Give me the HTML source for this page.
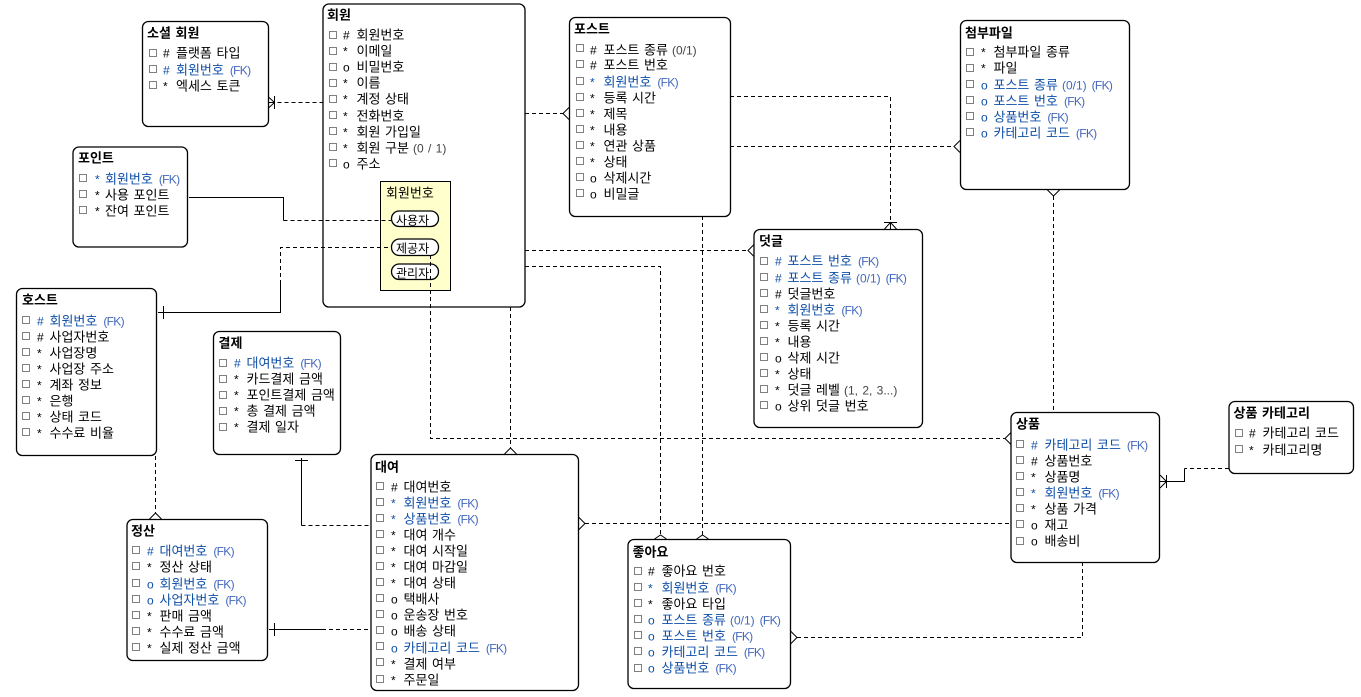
<!DOCTYPE html>
<html lang="ko">
<head>
<meta charset="utf-8">
<title>ERD</title>
<style>
html,body{margin:0;padding:0;background:#fff;width:1361px;height:697px;overflow:hidden}
svg{display:block}
text{font-family:"Noto Sans CJK KR","NanumGothic",sans-serif;font-size:13px;fill:#000;word-spacing:1px;transform:translateY(.5px)}
.t{font-weight:700}
.b{fill:#0f4fa8}
.k{font-family:"Liberation Sans",sans-serif;font-size:12px;letter-spacing:-.7px;fill:#4468bc}
.n{font-family:"Liberation Sans",sans-serif;font-size:12px;fill:#444}
.m{font-family:"Liberation Sans",sans-serif;font-size:12px}
.p{font-size:12px}
.e{fill:#fff;stroke:#000;stroke-width:1.3}
.c{fill:none;stroke:#808080;stroke-width:1;shape-rendering:crispEdges}
.s{fill:none;stroke:#000;stroke-width:1;shape-rendering:crispEdges}
.d{fill:none;stroke:#000;stroke-width:1;stroke-dasharray:4 3;shape-rendering:crispEdges}
.h{fill:none;stroke:#000;stroke-width:1}
</style>
</head>
<body>
<svg width="1361" height="697" viewBox="0 0 1361 697" xmlns="http://www.w3.org/2000/svg">
<!-- entity boxes -->
<rect class="e" x="142.5" y="21.5" width="126" height="105" rx="6"/>
<rect class="e" x="323" y="4" width="202" height="303" rx="6"/>
<rect class="e" x="73" y="147" width="114.5" height="100" rx="6"/>
<rect class="e" x="16.5" y="288.5" width="140" height="167" rx="6"/>
<rect class="e" x="213.5" y="331.5" width="127" height="123" rx="6"/>
<rect class="e" x="127" y="519.5" width="140.5" height="141" rx="6"/>
<rect class="e" x="371" y="454.5" width="207.5" height="236" rx="6"/>
<rect class="e" x="628" y="539.5" width="162.5" height="149" rx="6"/>
<rect class="e" x="569.5" y="17.5" width="161" height="199" rx="6"/>
<rect class="e" x="754" y="229.5" width="168.5" height="198" rx="6"/>
<rect class="e" x="960.5" y="20.5" width="169" height="169" rx="6"/>
<rect class="e" x="1011" y="412.5" width="148.5" height="150" rx="6"/>
<rect class="e" x="1229" y="401.5" width="124.5" height="72" rx="6"/>
<!-- subtype box -->
<rect x="380.5" y="181.5" width="70" height="109" fill="#ffffcc" stroke="#000" stroke-width="1" shape-rendering="crispEdges"/>
<rect class="e" x="391.5" y="211" width="47" height="15.5" rx="7.7" stroke-width="1"/>
<rect class="e" x="391.5" y="239" width="47" height="16.5" rx="8" stroke-width="1"/>
<rect class="e" x="391.5" y="264" width="47" height="15.5" rx="7.7" stroke-width="1"/>
<!-- connectors -->
<path class="d" d="M323.5 102.5H275"/>
<path class="s" d="M268.5 102.5H275M274.5 96V109"/><path class="h" d="M268.5 97L274.5 102.5L268.5 108"/>
<path class="s" d="M189 197.5H283.5V220.5"/>
<path class="d" d="M283.5 220.5H391"/>
<path class="s" d="M158 312.5H280.5V284M163.5 306V319"/>
<path class="d" d="M280.5 284V247.5H391"/>
<path class="d" d="M430.5 255V438.5H1005"/>
<path class="h" d="M1011 432.5L1005 438.5L1011 444.5"/>
<path class="d" d="M525 113.5H563"/>
<path class="h" d="M569 107.5L563 113.5L569 119.5"/>
<path class="d" d="M525 250.5H748"/>
<path class="h" d="M754 244.5L748 250.5L754 256.5"/>
<path class="d" d="M525 266.5H660.5V535"/>
<path class="h" d="M654.5 539L660.5 535L666.5 539"/>
<path class="d" d="M510.5 307V448"/>
<path class="h" d="M504.5 454L510.5 448L516.5 454"/>
<path class="d" d="M702.5 216V535"/>
<path class="h" d="M696.5 539L702.5 535L708.5 539"/>
<path class="d" d="M730 96.5H890.5V222"/>
<path class="s" d="M884 222.5H897M890.5 222V229"/><path class="h" d="M884.5 229L890.5 222.5L896.5 229"/>
<path class="d" d="M730 146.5H954"/>
<path class="h" d="M960 140.5L954 146.5L960 152.5"/>
<path class="d" d="M1053.5 196V412"/>
<path class="h" d="M1047 189.5L1053.5 196L1060 189.5"/>
<path class="d" d="M1229 468.5H1184.5"/>
<path class="s" d="M1184.5 468.5V481.5H1160M1166.5 475V488"/>
<path class="h" d="M1160 475L1166.5 481.5L1160 488"/>
<path class="d" d="M585 523.5H1011"/>
<path class="h" d="M578.5 517L585 523.5L578.5 530"/>
<path class="d" d="M797 637.5H1082.5V562"/>
<path class="h" d="M790.5 631L797 637.5L790.5 644"/>
<path class="s" d="M301.5 458V525.5M295 460.5H308"/>
<path class="d" d="M301.5 525.5H371"/>
<path class="s" d="M269 629.5H322M274.5 623V636"/>
<path class="d" d="M322 629.5H371"/>
<path class="d" d="M155.5 456V513"/>
<path class="h" d="M149.5 519L155.5 513L161.5 519"/>
<!-- checkboxes -->
<path class="c" d="M149.5 49.5h7v7h-7zM149.5 65.5h7v7h-7zM149.5 81.5h7v7h-7z
M329.5 31.5h7v7h-7zM329.5 47.5h7v7h-7zM329.5 63.5h7v7h-7zM329.5 79.5h7v7h-7zM329.5 95.5h7v7h-7zM329.5 111.5h7v7h-7zM329.5 127.5h7v7h-7zM329.5 143.5h7v7h-7zM329.5 159.5h7v7h-7z
M79.5 174.5h7v7h-7zM79.5 190.5h7v7h-7zM79.5 206.5h7v7h-7z
M22.5 316.5h7v7h-7zM22.5 332.5h7v7h-7zM22.5 348.5h7v7h-7zM22.5 364.5h7v7h-7zM22.5 380.5h7v7h-7zM22.5 396.5h7v7h-7zM22.5 412.5h7v7h-7zM22.5 428.5h7v7h-7z
M219.5 359.5h7v7h-7zM219.5 375.5h7v7h-7zM219.5 391.5h7v7h-7zM219.5 407.5h7v7h-7zM219.5 423.5h7v7h-7z
M132.5 546.5h7v7h-7zM132.5 562.5h7v7h-7zM132.5 579.5h7v7h-7zM132.5 595.5h7v7h-7zM132.5 611.5h7v7h-7zM132.5 627.5h7v7h-7zM132.5 643.5h7v7h-7z
M376.5 482.5h7v7h-7zM376.5 498.5h7v7h-7zM376.5 514.5h7v7h-7zM376.5 530.5h7v7h-7zM376.5 546.5h7v7h-7zM376.5 562.5h7v7h-7zM376.5 578.5h7v7h-7zM376.5 594.5h7v7h-7zM376.5 610.5h7v7h-7zM376.5 626.5h7v7h-7zM376.5 642.5h7v7h-7zM376.5 658.5h7v7h-7zM376.5 675.5h7v7h-7z
M634.5 567.5h7v7h-7zM634.5 583.5h7v7h-7zM634.5 599.5h7v7h-7zM634.5 615.5h7v7h-7zM634.5 631.5h7v7h-7zM634.5 647.5h7v7h-7zM634.5 664.5h7v7h-7z
M576.5 44.5h7v7h-7zM576.5 60.5h7v7h-7zM576.5 77.5h7v7h-7zM576.5 93.5h7v7h-7zM576.5 109.5h7v7h-7zM576.5 125.5h7v7h-7zM576.5 141.5h7v7h-7zM576.5 157.5h7v7h-7zM576.5 173.5h7v7h-7zM576.5 189.5h7v7h-7z
M760.5 257.5h7v7h-7zM760.5 273.5h7v7h-7zM760.5 289.5h7v7h-7zM760.5 305.5h7v7h-7zM760.5 321.5h7v7h-7zM760.5 337.5h7v7h-7zM760.5 353.5h7v7h-7zM760.5 369.5h7v7h-7zM760.5 385.5h7v7h-7zM760.5 401.5h7v7h-7z
M966.5 48.5h7v7h-7zM966.5 64.5h7v7h-7zM966.5 80.5h7v7h-7zM966.5 96.5h7v7h-7zM966.5 112.5h7v7h-7zM966.5 128.5h7v7h-7z
M1016.5 440.5h7v7h-7zM1016.5 456.5h7v7h-7zM1016.5 472.5h7v7h-7zM1016.5 488.5h7v7h-7zM1016.5 504.5h7v7h-7zM1016.5 520.5h7v7h-7zM1016.5 537.5h7v7h-7z
M1235.5 429.5h7v7h-7zM1235.5 445.5h7v7h-7z"/>
<!-- 소셜 회원 -->
<text class="t" x="147" y="37">소셜 회원</text>
<text y="57"><tspan class="m" x="163">#</tspan><tspan x="176">플랫폼 타입</tspan></text>
<text y="74" class="b"><tspan class="m b" x="163">#</tspan><tspan x="176">회원번호</tspan><tspan class="k" dx="6">(FK)</tspan></text>
<text y="90"><tspan class="m" x="163">*</tspan><tspan x="176">엑세스 토큰</tspan></text>
<!-- 회원 -->
<text class="t" x="327" y="19">회원</text>
<text y="39"><tspan class="m" x="343">#</tspan><tspan x="356.5">회원번호</tspan></text>
<text y="55"><tspan class="m" x="343">*</tspan><tspan x="356.5">이메일</tspan></text>
<text y="71"><tspan class="m" x="343">o</tspan><tspan x="356.5">비밀번호</tspan></text>
<text y="87"><tspan class="m" x="343">*</tspan><tspan x="356.5">이름</tspan></text>
<text y="103"><tspan class="m" x="343">*</tspan><tspan x="356.5">계정 상태</tspan></text>
<text y="120"><tspan class="m" x="343">*</tspan><tspan x="356.5">전화번호</tspan></text>
<text y="136"><tspan class="m" x="343">*</tspan><tspan x="356.5">회원 가입일</tspan></text>
<text y="152"><tspan class="m" x="343">*</tspan><tspan x="356.5">회원 구분</tspan><tspan class="n" dx="4">(0 / 1)</tspan></text>
<text y="168"><tspan class="m" x="343">o</tspan><tspan x="356.5">주소</tspan></text>
<text x="386" y="197">회원번호</text>
<text class="p" x="396" y="224">사용자</text>
<text class="p" x="396" y="252">제공자</text>
<text class="p" x="396" y="277">관리자</text>
<!-- 포인트 -->
<text class="t" x="78" y="162">포인트</text>
<text y="183" class="b"><tspan class="m b" x="95">*</tspan><tspan x="105">회원번호</tspan><tspan class="k" dx="6">(FK)</tspan></text>
<text y="199"><tspan class="m" x="95">*</tspan><tspan x="105">사용 포인트</tspan></text>
<text y="215"><tspan class="m" x="95">*</tspan><tspan x="105">잔여 포인트</tspan></text>
<!-- 호스트 -->
<text class="t" x="22" y="304">호스트</text>
<text y="325" class="b"><tspan class="m b" x="37">#</tspan><tspan x="49.5">회원번호</tspan><tspan class="k" dx="6">(FK)</tspan></text>
<text y="341"><tspan class="m" x="37">#</tspan><tspan x="49.5">사업자번호</tspan></text>
<text y="357"><tspan class="m" x="37">*</tspan><tspan x="49.5">사업장명</tspan></text>
<text y="373"><tspan class="m" x="37">*</tspan><tspan x="49.5">사업장 주소</tspan></text>
<text y="389"><tspan class="m" x="37">*</tspan><tspan x="49.5">계좌 정보</tspan></text>
<text y="405"><tspan class="m" x="37">*</tspan><tspan x="49.5">은행</tspan></text>
<text y="421"><tspan class="m" x="37">*</tspan><tspan x="49.5">상태 코드</tspan></text>
<text y="437"><tspan class="m" x="37">*</tspan><tspan x="49.5">수수료 비율</tspan></text>
<!-- 결제 -->
<text class="t" x="218.5" y="347">결제</text>
<text y="367" class="b"><tspan class="m b" x="234">#</tspan><tspan x="246.5">대여번호</tspan><tspan class="k" dx="6">(FK)</tspan></text>
<text y="383"><tspan class="m" x="234">*</tspan><tspan x="246.5">카드결제 금액</tspan></text>
<text y="399"><tspan class="m" x="234">*</tspan><tspan x="246.5">포인트결제 금액</tspan></text>
<text y="415"><tspan class="m" x="234">*</tspan><tspan x="246.5">총 결제 금액</tspan></text>
<text y="431"><tspan class="m" x="234">*</tspan><tspan x="246.5">결제 일자</tspan></text>
<!-- 정산 -->
<text class="t" x="131" y="535">정산</text>
<text y="555" class="b"><tspan class="m b" x="147">#</tspan><tspan x="159.5">대여번호</tspan><tspan class="k" dx="6">(FK)</tspan></text>
<text y="571"><tspan class="m" x="147">*</tspan><tspan x="159.5">정산 상태</tspan></text>
<text y="588" class="b"><tspan class="m b" x="147">o</tspan><tspan x="159.5">회원번호</tspan><tspan class="k" dx="6">(FK)</tspan></text>
<text y="604" class="b"><tspan class="m b" x="147">o</tspan><tspan x="159.5">사업자번호</tspan><tspan class="k" dx="6">(FK)</tspan></text>
<text y="620"><tspan class="m" x="147">*</tspan><tspan x="159.5">판매 금액</tspan></text>
<text y="636"><tspan class="m" x="147">*</tspan><tspan x="159.5">수수료 금액</tspan></text>
<text y="652"><tspan class="m" x="147">*</tspan><tspan x="159.5">실제 정산 금액</tspan></text>
<!-- 대여 -->
<text class="t" x="375" y="471">대여</text>
<text y="491"><tspan class="m" x="391">#</tspan><tspan x="403.5">대여번호</tspan></text>
<text y="507" class="b"><tspan class="m b" x="391">*</tspan><tspan x="403.5">회원번호</tspan><tspan class="k" dx="6">(FK)</tspan></text>
<text y="523" class="b"><tspan class="m b" x="391">*</tspan><tspan x="403.5">상품번호</tspan><tspan class="k" dx="6">(FK)</tspan></text>
<text y="539"><tspan class="m" x="391">*</tspan><tspan x="403.5">대여 개수</tspan></text>
<text y="555"><tspan class="m" x="391">*</tspan><tspan x="403.5">대여 시작일</tspan></text>
<text y="571"><tspan class="m" x="391">*</tspan><tspan x="403.5">대여 마감일</tspan></text>
<text y="587"><tspan class="m" x="391">*</tspan><tspan x="403.5">대여 상태</tspan></text>
<text y="603"><tspan class="m" x="391">o</tspan><tspan x="403.5">택배사</tspan></text>
<text y="619"><tspan class="m" x="391">o</tspan><tspan x="403.5">운송장 번호</tspan></text>
<text y="635"><tspan class="m" x="391">o</tspan><tspan x="403.5">배송 상태</tspan></text>
<text y="652" class="b"><tspan class="m b" x="391">o</tspan><tspan x="403.5">카테고리 코드</tspan><tspan class="k" dx="6">(FK)</tspan></text>
<text y="668"><tspan class="m" x="391">*</tspan><tspan x="403.5">결제 여부</tspan></text>
<text y="684"><tspan class="m" x="391">*</tspan><tspan x="403.5">주문일</tspan></text>
<!-- 좋아요 -->
<text class="t" x="632.5" y="556">좋아요</text>
<text y="575"><tspan class="m" x="648">#</tspan><tspan x="661.5">좋아요 번호</tspan></text>
<text y="592" class="b"><tspan class="m b" x="648">*</tspan><tspan x="661.5">회원번호</tspan><tspan class="k" dx="6">(FK)</tspan></text>
<text y="608"><tspan class="m" x="648">*</tspan><tspan x="661.5">좋아요 타입</tspan></text>
<text y="624" class="b"><tspan class="m b" x="648">o</tspan><tspan x="661.5">포스트 종류</tspan><tspan class="n" dx="4" style="fill:#4468bc">(0/1)</tspan><tspan class="k" dx="5">(FK)</tspan></text>
<text y="640" class="b"><tspan class="m b" x="648">o</tspan><tspan x="661.5">포스트 번호</tspan><tspan class="k" dx="6">(FK)</tspan></text>
<text y="656" class="b"><tspan class="m b" x="648">o</tspan><tspan x="661.5">카테고리 코드</tspan><tspan class="k" dx="6">(FK)</tspan></text>
<text y="672" class="b"><tspan class="m b" x="648">o</tspan><tspan x="661.5">상품번호</tspan><tspan class="k" dx="6">(FK)</tspan></text>
<!-- 포스트 -->
<text class="t" x="574" y="33">포스트</text>
<text y="54"><tspan class="m" x="590">#</tspan><tspan x="603.5">포스트 종류</tspan><tspan class="n" dx="4">(0/1)</tspan></text>
<text y="69"><tspan class="m" x="590">#</tspan><tspan x="603.5">포스트 번호</tspan></text>
<text y="86" class="b"><tspan class="m b" x="590">*</tspan><tspan x="603.5">회원번호</tspan><tspan class="k" dx="6">(FK)</tspan></text>
<text y="102"><tspan class="m" x="590">*</tspan><tspan x="603.5">등록 시간</tspan></text>
<text y="118"><tspan class="m" x="590">*</tspan><tspan x="603.5">제목</tspan></text>
<text y="134"><tspan class="m" x="590">*</tspan><tspan x="603.5">내용</tspan></text>
<text y="150"><tspan class="m" x="590">*</tspan><tspan x="603.5">연관 상품</tspan></text>
<text y="166"><tspan class="m" x="590">*</tspan><tspan x="603.5">상태</tspan></text>
<text y="182"><tspan class="m" x="590">o</tspan><tspan x="603.5">삭제시간</tspan></text>
<text y="198"><tspan class="m" x="590">o</tspan><tspan x="603.5">비밀글</tspan></text>
<!-- 덧글 -->
<text class="t" x="759" y="245">덧글</text>
<text y="265" class="b"><tspan class="m b" x="775">#</tspan><tspan x="787.5">포스트 번호</tspan><tspan class="k" dx="6">(FK)</tspan></text>
<text y="282" class="b"><tspan class="m b" x="775">#</tspan><tspan x="787.5">포스트 종류</tspan><tspan class="n" dx="4" style="fill:#4468bc">(0/1)</tspan><tspan class="k" dx="5">(FK)</tspan></text>
<text y="298"><tspan class="m" x="775">#</tspan><tspan x="787.5">덧글번호</tspan></text>
<text y="314" class="b"><tspan class="m b" x="775">*</tspan><tspan x="787.5">회원번호</tspan><tspan class="k" dx="6">(FK)</tspan></text>
<text y="330"><tspan class="m" x="775">*</tspan><tspan x="787.5">등록 시간</tspan></text>
<text y="346"><tspan class="m" x="775">*</tspan><tspan x="787.5">내용</tspan></text>
<text y="362"><tspan class="m" x="775">o</tspan><tspan x="787.5">삭제 시간</tspan></text>
<text y="378"><tspan class="m" x="775">*</tspan><tspan x="787.5">상태</tspan></text>
<text y="394"><tspan class="m" x="775">*</tspan><tspan x="787.5">덧글 레벨</tspan><tspan class="n" dx="4">(1, 2, 3...)</tspan></text>
<text y="410"><tspan class="m" x="775">o</tspan><tspan x="787.5">상위 덧글 번호</tspan></text>
<!-- 첨부파일 -->
<text class="t" x="965" y="37">첨부파일</text>
<text y="56"><tspan class="m" x="981">*</tspan><tspan x="993.5">첨부파일 종류</tspan></text>
<text y="72"><tspan class="m" x="981">*</tspan><tspan x="993.5">파일</tspan></text>
<text y="89" class="b"><tspan class="m b" x="981">o</tspan><tspan x="993.5">포스트 종류</tspan><tspan class="n" dx="4" style="fill:#4468bc">(0/1)</tspan><tspan class="k" dx="5">(FK)</tspan></text>
<text y="105" class="b"><tspan class="m b" x="981">o</tspan><tspan x="993.5">포스트 번호</tspan><tspan class="k" dx="6">(FK)</tspan></text>
<text y="121" class="b"><tspan class="m b" x="981">o</tspan><tspan x="993.5">상품번호</tspan><tspan class="k" dx="6">(FK)</tspan></text>
<text y="137" class="b"><tspan class="m b" x="981">o</tspan><tspan x="993.5">카테고리 코드</tspan><tspan class="k" dx="6">(FK)</tspan></text>
<!-- 상품 -->
<text class="t" x="1016" y="428">상품</text>
<text y="449" class="b"><tspan class="m b" x="1031">#</tspan><tspan x="1044.5">카테고리 코드</tspan><tspan class="k" dx="6">(FK)</tspan></text>
<text y="465"><tspan class="m" x="1031">#</tspan><tspan x="1044.5">상품번호</tspan></text>
<text y="481"><tspan class="m" x="1031">*</tspan><tspan x="1044.5">상품명</tspan></text>
<text y="497" class="b"><tspan class="m b" x="1031">*</tspan><tspan x="1044.5">회원번호</tspan><tspan class="k" dx="6">(FK)</tspan></text>
<text y="513"><tspan class="m" x="1031">*</tspan><tspan x="1044.5">상품 가격</tspan></text>
<text y="529"><tspan class="m" x="1031">o</tspan><tspan x="1044.5">재고</tspan></text>
<text y="545"><tspan class="m" x="1031">o</tspan><tspan x="1044.5">배송비</tspan></text>
<!-- 상품 카테고리 -->
<text class="t" x="1233.5" y="417">상품 카테고리</text>
<text y="437"><tspan class="m" x="1249">#</tspan><tspan x="1262.5">카테고리 코드</tspan></text>
<text y="454"><tspan class="m" x="1249">*</tspan><tspan x="1262.5">카테고리명</tspan></text>
</svg>
</body>
</html>
